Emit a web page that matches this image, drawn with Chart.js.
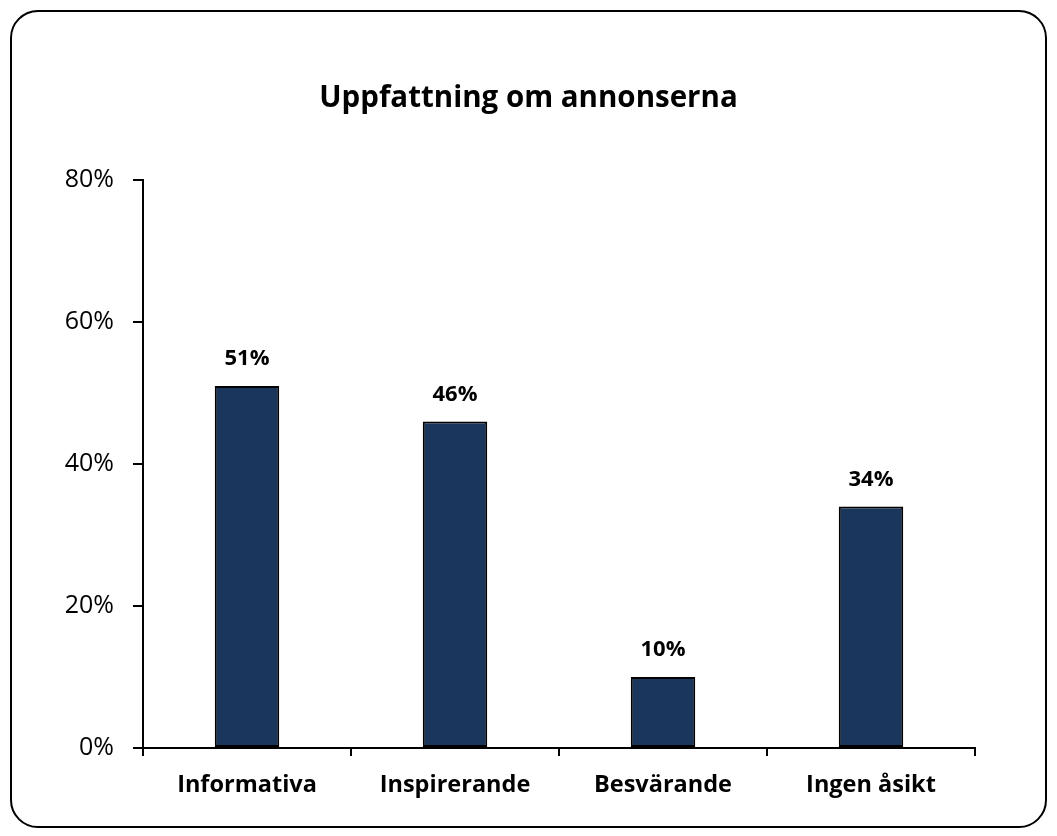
<!DOCTYPE html>
<html>
<head>
<meta charset="utf-8">
<script src="https://cdn.jsdelivr.net/npm/chart.js@4"></script>
<style>
  body { margin: 0; background: #fff; }
  #frame {
    position: absolute; left: 10px; top: 10px;
    width: 1033px; height: 814px;
    border: 2px solid #000; border-radius: 28px;
  }
  #wrap { position: absolute; left: 0; top: 0; width: 1057px; height: 836px; }
</style>
</head>
<body>
<div id="frame"></div>
<div id="wrap"><canvas id="chart"></canvas></div>
<script>
const categories = ["Informativa", "Inspirerande", "Besvärande", "Ingen åsikt"];
const values = [51, 46, 10, 34];
const yTicks = [0, 20, 40, 60, 80];
const titleText = "Uppfattning om annonserna";

// --- value labels above the bars + centred title ---
const barLabels = {
    id: "barLabels",
    afterDatasetsDraw(chart) {
        const ctx = chart.ctx;
        const meta = chart.getDatasetMeta(0);
        ctx.save();
        ctx.fillStyle = "#000";
        ctx.textAlign = "center";
        ctx.textBaseline = "middle";
        ctx.font = "bold 22px 'Open Sans'";
        meta.data.forEach((bar, i) => {
            ctx.fillText(values[i] + "%", bar.x, bar.y - 27);
        });
        ctx.font = "bold 29.5px 'Open Sans'";
        ctx.fillText(titleText, chart.width / 2, 99);
        ctx.restore();
    }
};

new Chart(document.getElementById("chart"), {
    type: "bar",
    data: {
        labels: categories,
        datasets: [{
            data: values,
            backgroundColor: "#1b365d",
            borderColor: "#000",
            borderWidth: 2,
            borderSkipped: false,
            categoryPercentage: 1,
            barPercentage: 0.31
        }]
    },
    options: {
        responsive: true,
        maintainAspectRatio: false,
        animation: false,
        layout: { padding: { left: 0, right: 82, top: 180, bottom: 0 } },
        plugins: {
            legend: { display: false },
            tooltip: { enabled: false },
            title: { display: false }
        },
        scales: {
            y: {
                min: 0,
                max: 80,
                afterBuildTicks: (scale) => { scale.ticks = yTicks.map(v => ({ value: v })); },
                afterFit: (scale) => { scale.width = 143; },
                border: { display: true, color: "#000", width: 2 },
                grid: { drawOnChartArea: false, drawTicks: true, tickLength: 10, color: "#000", lineWidth: 2 },
                ticks: {
                    color: "#000",
                    padding: 19,
                    font: { family: "'Open Sans'", size: 25 },
                    callback: (v) => v + "%"
                }
            },
            x: {
                afterFit: (scale) => { scale.height = 88; },
                border: { display: true, color: "#000", width: 2 },
                grid: { offset: true, drawOnChartArea: false, drawTicks: true, tickLength: 8, color: "#000", lineWidth: 2 },
                ticks: {
                    color: "#000",
                    padding: 15,
                    font: { family: "'Open Sans'", size: 23.5, weight: "bold" }
                }
            }
        }
    },
    plugins: [barLabels]
});
</script>
</body>
</html>
